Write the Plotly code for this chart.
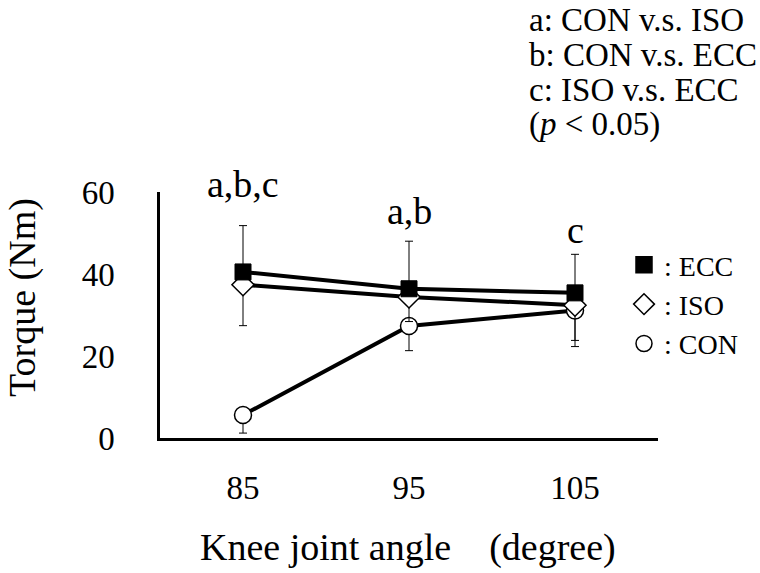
import plotly.graph_objects as go

angles = ["85", "95", "105"]
ecc = [40.5, 36.4, 35.4]
iso = [37.4, 34.4, 32.4]
con = [5.6, 27.3, 31.1]
ecc_err_up = [11.3, 11.6, 9.4]
iso_err_down = [10.0, 6.0, 8.6]
con_err_down = [4.4, 6.0, 8.8]
sig_labels = ["a,b,c", "a,b", "c"]
sig_y = [62.0, 55.3, 50.7]
yticks = [0, 20, 40, 60]
note_lines = ["a: CON v.s. ISO", "b: CON v.s. ECC", "c: ISO v.s. ECC", "(<i>p</i> &lt; 0.05)"]

FONT = "Liberation Serif"
YMAX = 60

W, H = 760, 573
L, R, T, B = 160, 102, 192, 135
pw, ph = W - L - R, H - T - B


def px_x(x):
    return (x - L) / pw


def px_y(y):
    return (H - B - y) / ph


fig = go.Figure()


def err(minus=None, plus=None):
    n = len(angles)
    return dict(type="data", symmetric=False,
                array=plus if plus else [0] * n,
                arrayminus=minus if minus else [0] * n,
                color="black", thickness=1, width=4)


fig.add_trace(go.Scatter(x=angles, y=con, mode="lines+markers", name="CON",
                         line=dict(color="black", width=4),
                         marker=dict(symbol="circle", size=17, color="white",
                                     line=dict(color="black", width=1.5)),
                         error_y=err(minus=con_err_down), showlegend=False))
fig.add_trace(go.Scatter(x=angles, y=iso, mode="lines+markers", name="ISO",
                         line=dict(color="black", width=4),
                         marker=dict(symbol="diamond", size=17, color="white",
                                     line=dict(color="black", width=1.5)),
                         error_y=err(minus=iso_err_down), showlegend=False))
fig.add_trace(go.Scatter(x=angles, y=ecc, mode="lines+markers", name="ECC",
                         line=dict(color="black", width=4),
                         marker=dict(symbol="square", size=16, color="black",
                                     line=dict(color="black", width=1)),
                         error_y=err(plus=ecc_err_up), showlegend=False))

# legend-only entries
for nm, sym in [("ECC", "square"), ("ISO", "diamond-open"), ("CON", "circle-open")]:
    fig.add_trace(go.Scatter(x=[None], y=[None], mode="markers", name=": " + nm,
                             marker=dict(symbol=sym, size=16, color="black",
                                         line=dict(color="black", width=1.5)),
                             showlegend=True))

# significance letters (category index positions)
for i, (lab, yy) in enumerate(zip(sig_labels, sig_y)):
    fig.add_annotation(x=i, y=yy / YMAX, xref="x", yref="paper", text=lab, showarrow=False,
                       font=dict(family=FONT, size=38, color="black"),
                       xanchor="center", yanchor="middle")

for i, line in enumerate(note_lines):
    fig.add_annotation(x=px_x(527), y=px_y(20 + 35 * i), xref="paper", yref="paper", text=line,
                       showarrow=False, font=dict(family=FONT, size=33, color="black"),
                       xanchor="left", yanchor="middle")

fig.add_annotation(x=px_x(408), y=px_y(547), xref="paper", yref="paper",
                   text="Knee joint angle\u3000(degree)", showarrow=False,
                   font=dict(family=FONT, size=38, color="black"),
                   xanchor="center", yanchor="middle")
fig.add_annotation(x=px_x(22), y=px_y(298), xref="paper", yref="paper",
                   text="Torque (Nm)", showarrow=False, textangle=-90,
                   font=dict(family=FONT, size=38, color="black"),
                   xanchor="center", yanchor="middle")

fig.update_layout(
    width=W, height=H,
    margin=dict(l=L, r=R, t=T, b=B, pad=0),
    paper_bgcolor="white", plot_bgcolor="white",
    font=dict(family=FONT, color="black"),
    legend=dict(x=px_x(624), y=px_y(240), xanchor="left", yanchor="top",
                font=dict(family=FONT, size=28, color="black"),
                bgcolor="rgba(0,0,0,0)", tracegroupgap=0, itemwidth=30),
    xaxis=dict(type="category", range=[-0.5, 2.5], showgrid=False, zeroline=False,
               showline=True, linecolor="black", linewidth=2.5, ticks="",
               tickfont=dict(family=FONT, size=33, color="black"),
               ticklabelstandoff=19),
    yaxis=dict(range=[0, YMAX], tickvals=yticks, showgrid=False, zeroline=False,
               showline=True, linecolor="black", linewidth=2.5, ticks="",
               tickfont=dict(family=FONT, size=33, color="black"),
               ticklabelstandoff=36),
)

fig.write_html("out.html", config={"displayModeBar": False},
               post_script="document.body.style.margin='0px';")
